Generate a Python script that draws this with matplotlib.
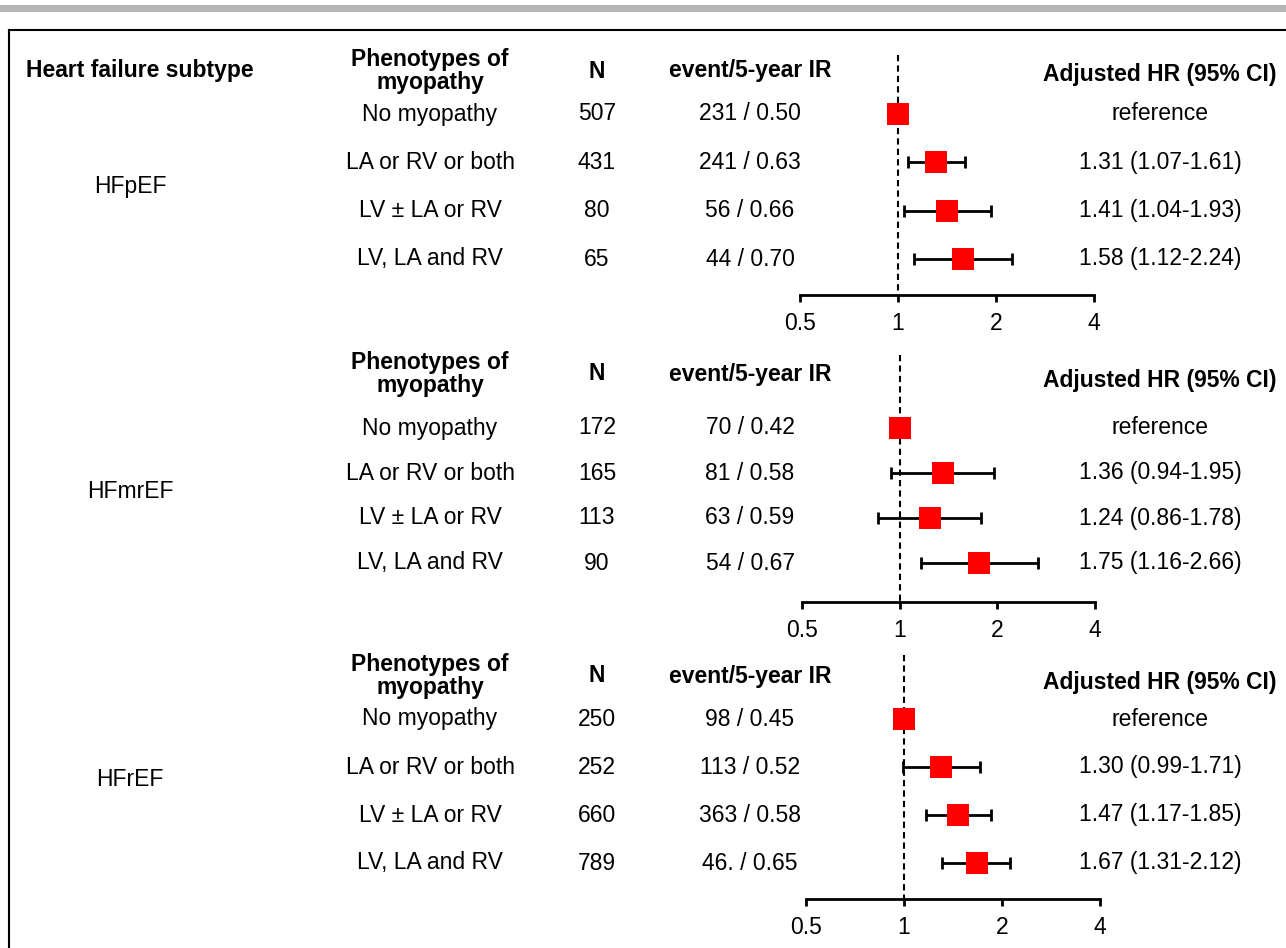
import matplotlib
matplotlib.use("Agg")
import matplotlib.pyplot as plt
import matplotlib.transforms as mtransforms
from matplotlib.lines import Line2D
from matplotlib.patches import Rectangle
from matplotlib.ticker import NullLocator

plt.rcParams['font.family'] = ['Liberation Sans', 'DejaVu Sans']
plt.rcParams['font.size'] = 16.5

# === DATA ===
subtypes = ["HFpEF", "HFmrEF", "HFrEF"]
phenotypes = ["No myopathy", "LA or RV or both", "LV \u00b1 LA or RV", "LV, LA and RV"]

n_pef = [507, 431, 80, 65]
n_mref = [172, 165, 113, 90]
n_ref = [250, 252, 660, 789]

event_ir_pef = ["231 / 0.50", "241 / 0.63", "56 / 0.66", "44 / 0.70"]
event_ir_mref = ["70 / 0.42", "81 / 0.58", "63 / 0.59", "54 / 0.67"]
event_ir_ref = ["98 / 0.45", "113 / 0.52", "363 / 0.58", "46. / 0.65"]

# first row is the reference group (HR = 1, no CI)
hr_pef = [1.0, 1.31, 1.41, 1.58]
lo_pef = [1.0, 1.07, 1.04, 1.12]
hi_pef = [1.0, 1.61, 1.93, 2.24]

hr_mref = [1.0, 1.36, 1.24, 1.75]
lo_mref = [1.0, 0.94, 0.86, 1.16]
hi_mref = [1.0, 1.95, 1.78, 2.66]

hr_ref = [1.0, 1.30, 1.47, 1.67]
lo_ref = [1.0, 0.99, 1.17, 1.31]
hi_ref = [1.0, 1.71, 1.85, 2.12]

x_ticks = [0.5, 1, 2, 4]
x_tick_labels = ["0.5", "1", "2", "4"]

panels = [
    (n_pef, event_ir_pef, hr_pef, lo_pef, hi_pef),
    (n_mref, event_ir_mref, hr_mref, lo_mref, hi_mref),
    (n_ref, event_ir_ref, hr_ref, lo_ref, hi_ref),
]

# === LAYOUT (pixels) ===
W, H = 1286, 948
layouts = [
    dict(x05=800, x4=1094, row0=114, row3=259, axis=295, head=71, head_hr=75, label=186, dash=55),
    dict(x05=802, x4=1095, row0=428, row3=563, axis=602, head=374, head_hr=381, label=491, dash=355),
    dict(x05=806, x4=1100, row0=719, row3=863, axis=899, head=676, head_hr=683, label=779, dash=655),
]
col_sub, col_pheno, col_n, col_event, col_ci, col_hr_head = 130, 430, 597, 750, 1160, 1160

fig = plt.figure(figsize=(W / 100, H / 100), dpi=100)

# gray bar on top and the frame
fig.add_artist(Rectangle((0, 1 - 12 / H), 1, 7 / H, transform=fig.transFigure,
                         color='#b5b5b5', lw=0))
fig.add_artist(Line2D([9 / W, 1], [1 - 30 / H, 1 - 30 / H], color='black', lw=1.5,
                      transform=fig.transFigure))
fig.add_artist(Line2D([9 / W, 9 / W], [0, 1 - 30 / H], color='black', lw=1.5,
                      transform=fig.transFigure))

for i, (lay, (n_vals, ev_vals, hrs, los, his)) in enumerate(zip(layouts, panels)):
    step = (lay['row3'] - lay['row0']) / 3.0
    top_px = lay['dash'] - 10

    ax = fig.add_axes([lay['x05'] / W, 1 - lay['axis'] / H,
                       (lay['x4'] - lay['x05']) / W, (lay['axis'] - top_px) / H])
    ax.set_xscale('log')
    ax.set_xlim(0.5, 4)
    axis_row = (lay['axis'] - lay['row0']) / step
    ax.set_ylim(axis_row, (top_px - lay['row0']) / step)
    ax.patch.set_visible(False)

    rows = list(range(len(hrs)))

    # reference line at HR = 1
    dash_row = (lay['dash'] - lay['row0']) / step
    ax.plot([1, 1], [dash_row, axis_row], color='black', lw=1.5, ls=(0, (3, 2)),
            zorder=1, clip_on=False)

    # CI whiskers (skip the reference group)
    ci_rows = rows[1:]
    ci_hr = hrs[1:]
    err_lo = [h - l for h, l in zip(hrs[1:], los[1:])]
    err_hi = [u - h for h, u in zip(hrs[1:], his[1:])]
    ax.errorbar(ci_hr, ci_rows, xerr=[err_lo, err_hi], fmt='none', ecolor='black',
                elinewidth=2, capsize=4.5, capthick=2, zorder=2)
    ax.plot(hrs, rows, 's', color='#ff0000', markersize=16, markeredgewidth=0,
            zorder=3, clip_on=False)

    for side in ['left', 'right', 'top']:
        ax.spines[side].set_visible(False)
    ax.spines['bottom'].set_linewidth(2)
    ax.set_yticks([])
    ax.set_xticks(x_ticks)
    ax.set_xticklabels(x_tick_labels)
    ax.xaxis.set_minor_locator(NullLocator())
    ax.tick_params(axis='x', length=5, width=2, direction='out', pad=7, labelsize=16.5)

    # table text
    tr = mtransforms.blended_transform_factory(fig.transFigure, ax.transData)
    head_row = (lay['head'] - lay['row0']) / step
    head_hr_row = (lay['head_hr'] - lay['row0']) / step

    if i == 0:
        ax.text(140 / W, head_row, "Heart failure subtype", transform=tr, ha='center',
                va='center', fontweight='bold', clip_on=False)
    ax.text(col_pheno / W, head_row, "Phenotypes of\nmyopathy", transform=tr, ha='center',
            va='center', fontweight='bold', linespacing=1.0, clip_on=False)
    ax.text(col_n / W, head_row, "N", transform=tr, ha='center', va='center',
            fontweight='bold', clip_on=False)
    ax.text(col_event / W, head_row, "event/5-year IR", transform=tr, ha='center',
            va='center', fontweight='bold', clip_on=False)
    ax.text(col_hr_head / W, head_hr_row, "Adjusted HR (95% CI)", transform=tr,
            ha='center', va='center', fontweight='bold', clip_on=False)

    label_row = (lay['label'] - lay['row0']) / step
    ax.text(col_sub / W, label_row, subtypes[i], transform=tr, ha='center', va='center',
            clip_on=False)

    for r in rows:
        ax.text(col_pheno / W, r, phenotypes[r], transform=tr, ha='center', va='center',
                clip_on=False)
        ax.text(col_n / W, r, str(n_vals[r]), transform=tr, ha='center', va='center',
                clip_on=False)
        ax.text(col_event / W, r, ev_vals[r], transform=tr, ha='center', va='center',
                clip_on=False)
        if r == 0:
            ci_txt = "reference"
        else:
            ci_txt = f"{hrs[r]:.2f} ({los[r]:.2f}-{his[r]:.2f})"
        ax.text(col_ci / W, r, ci_txt, transform=tr, ha='center', va='center',
                clip_on=False)

fig.savefig("out.png", dpi=100)
